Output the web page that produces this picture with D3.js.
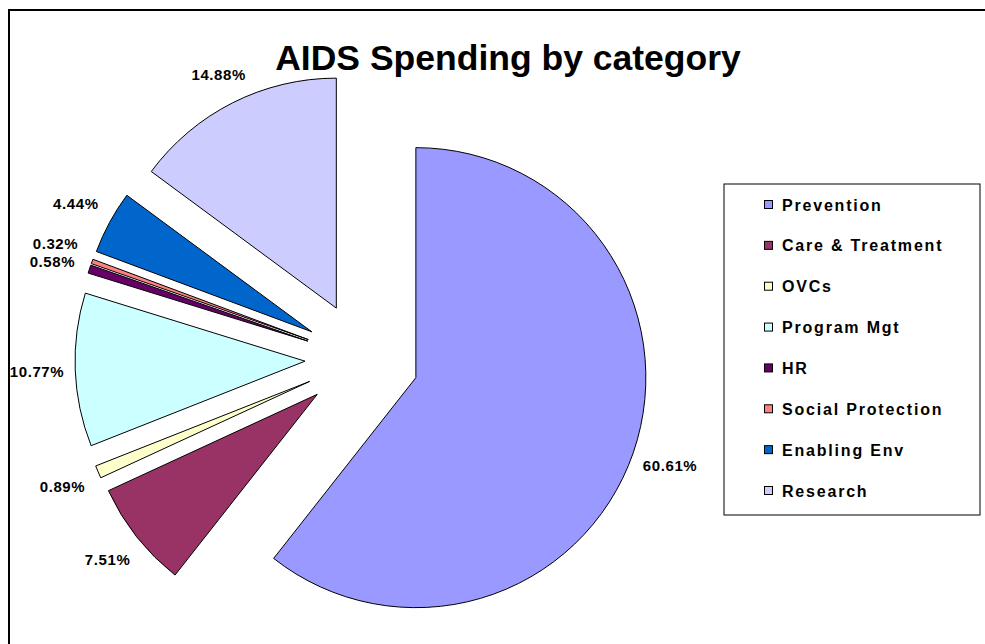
<!DOCTYPE html>
<html>
<head>
<meta charset="utf-8">
<script src="https://cdn.jsdelivr.net/npm/d3@7"></script>
<style>
  body { margin: 0; background: #fff; }
  svg { display: block; font-family: "Liberation Sans", Arial, sans-serif; }
</style>
</head>
<body>
<svg></svg>
<script>
var width = 985, height = 644;

// data
var categories = ['Prevention', 'Care & Treatment', 'OVCs', 'Program Mgt', 'HR',
                  'Social Protection', 'Enabling Env', 'Research'];
var shares = [60.61, 7.51, 0.89, 10.77, 0.58, 0.32, 4.44, 14.88];
var colors = ['#9999FF', '#993366', '#FFFFCC', '#CCFFFF', '#660066',
              '#FF8080', '#0066CC', '#CCCCFF'];

var cx = 362, cy = 359;
var radius = 230;
var explode = 57;
var labelGap = 244;
var minLabelSep = 18;

var svg = d3.select('svg')
    .attr('width', width)
    .attr('height', height);

// chart frame (runs off the right/bottom edge)
svg.append('path')
    .attr('d', 'M9,' + (height + 5) + 'V10H' + (width + 5))
    .attr('fill', 'none')
    .attr('stroke', '#000')
    .attr('stroke-width', 2);

svg.append('text')
    .attr('x', 508)
    .attr('y', 70)
    .attr('text-anchor', 'middle')
    .style('font-size', '35.5px')
    .style('font-weight', 'bold')
    .text('AIDS Spending by category');

var pie = d3.pie().sort(null).value(function(d) { return d; });
var arcs = pie(shares);
var arc = d3.arc().innerRadius(0).outerRadius(radius);

function dir(d) {
  var a = (d.startAngle + d.endAngle) / 2;
  return [Math.sin(a), -Math.cos(a)];
}

var g = svg.append('g').attr('transform', 'translate(' + cx + ',' + cy + ')');

g.selectAll('path.slice')
  .data(arcs)
  .enter()
  .append('path')
  .attr('class', 'slice')
  .attr('transform', function(d) {
    var v = dir(d);
    return 'translate(' + (v[0] * explode) + ',' + (v[1] * explode) + ')';
  })
  .attr('d', arc)
  .attr('fill', function(d, i) { return colors[i]; })
  .attr('stroke', '#000')
  .attr('stroke-width', 1);

// labels sit just outside each exploded slice, pushed out by half the label box
arcs.forEach(function(d) {
  var v = dir(d);
  var r = explode + labelGap + 24 * Math.abs(v[0]) + 7 * Math.abs(v[1]);
  d.lx = v[0] * r;
  d.ly = v[1] * r;
});
// spread apart labels of tiny neighbouring slices
for (var i = 1; i < arcs.length; i++) {
  var a = arcs[i - 1], b = arcs[i];
  var dy = Math.abs(a.ly - b.ly);
  if (Math.abs(a.lx - b.lx) < 40 && dy < minLabelSep) {
    var push = (minLabelSep - dy) / 2;
    var up = a.ly < b.ly ? a : b, down = up === a ? b : a;
    up.ly -= push;
    down.ly += push;
  }
}

g.selectAll('text.lbl')
  .data(arcs)
  .enter()
  .append('text')
  .attr('class', 'lbl')
  .attr('x', function(d) { return d.lx; })
  .attr('y', function(d) { return d.ly; })
  .attr('dy', '0.35em')
  .attr('text-anchor', 'middle')
  .style('font-size', '15px')
  .style('font-weight', 'bold')
  .style('letter-spacing', '0.6px')
  .text(function(d) { return d.value.toFixed(2) + '%'; });

// legend
var lx = 724, ly = 184, lw = 256, lh = 331;
var legend = svg.append('g');
legend.append('rect')
    .attr('x', lx).attr('y', ly)
    .attr('width', lw).attr('height', lh)
    .attr('fill', '#fff')
    .attr('stroke', '#000')
    .attr('stroke-width', 1);

var ys = d3.scalePoint().domain(categories).range([205, 491]);

var item = legend.selectAll('g.item')
  .data(categories)
  .enter()
  .append('g')
  .attr('class', 'item')
  .attr('transform', function(d) { return 'translate(0,' + ys(d) + ')'; });

item.append('rect')
  .attr('x', 764.5).attr('y', -4.5)
  .attr('width', 8).attr('height', 8)
  .attr('fill', function(d, i) { return colors[i]; })
  .attr('stroke', '#000')
  .attr('stroke-width', 1);

item.append('text')
  .attr('x', 782)
  .attr('dy', '0.35em')
  .style('font-size', '16px')
  .style('font-weight', 'bold')
  .style('letter-spacing', '1.8px')
  .text(function(d) { return d; });
</script>
</body>
</html>
